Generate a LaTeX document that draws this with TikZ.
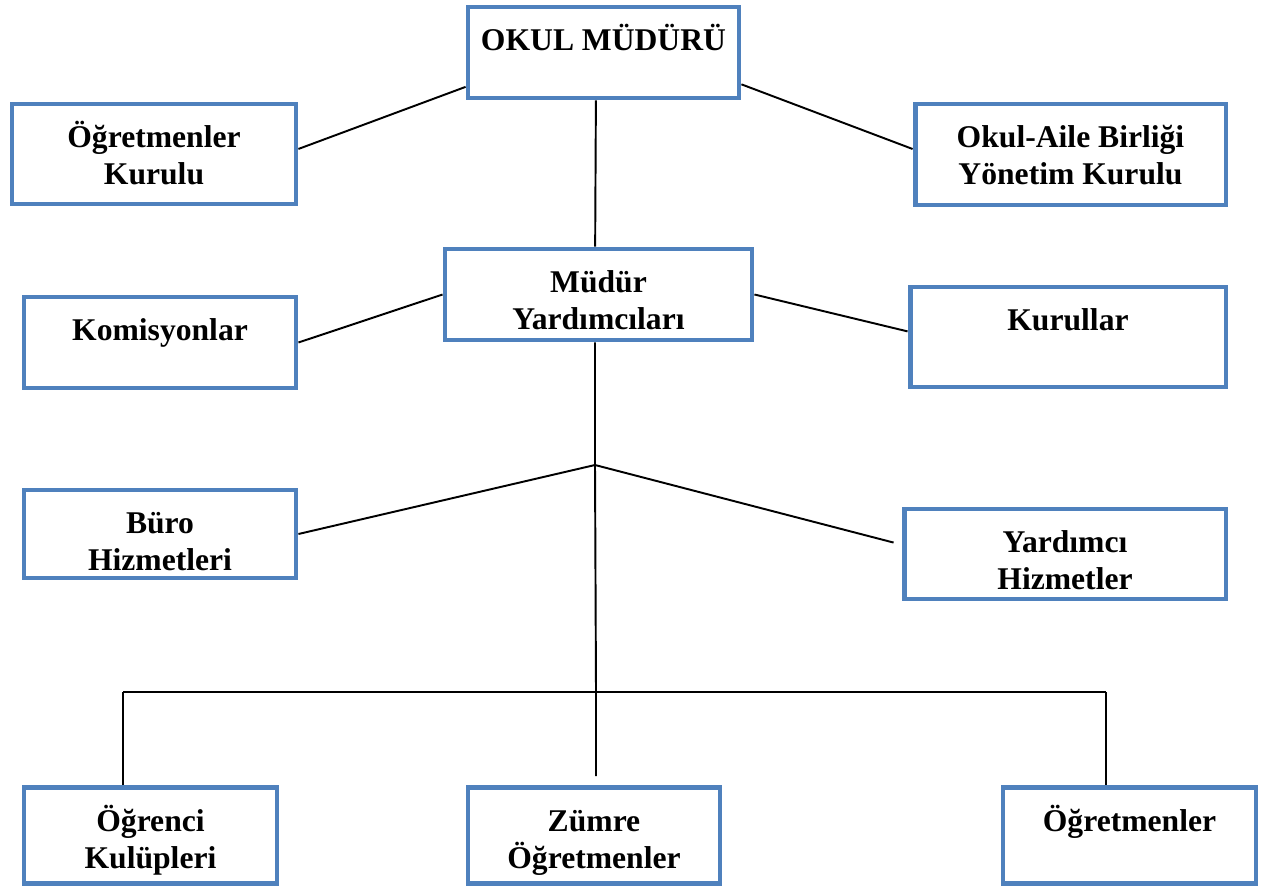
\documentclass[tikz,border=0pt]{standalone}
\usepackage{fontspec}
\setmainfont{Liberation Serif}
\definecolor{kutumavi}{HTML}{4F81BD}
\newcommand{\kutu}[3]{\parbox[c][#2cm][t]{#1cm}{\centering\rule{0pt}{25pt}#3}}

\begin{document}
\begin{tikzpicture}
  [x=0.02cm,y=-0.02cm,
   every node/.style={rectangle,draw=kutumavi,line width=2.8pt,inner sep=0pt,
                      font=\bfseries\fontsize{18}{21}\selectfont},
   cizgi/.style={line width=1.1pt}]
  \useasboundingbox (0,0) rectangle (1264,888);

  \node (mudur)    at (603.5,52.5)  {\kutu{5.42}{1.82}{OKUL MÜDÜRÜ}};
  \node (ogrkurul) at (154,154)     {\kutu{5.68}{2.00}{Öğretmenler\\Kurulu}};
  \node (okulaile) at (1070.5,154.5){\kutu{6.22}{2.02}{Okul-Aile Birliği\\Yönetim Kurulu}};
  \node (yard)     at (598.5,294.5) {\kutu{6.14}{1.82}{Müdür\\Yardımcıları}};
  \node (komisyon) at (160,342.5)   {\kutu{5.44}{1.82}{Komisyonlar}};
  \node (kurullar) at (1068,337)    {\kutu{6.32}{2.00}{Kurullar}};
  \node (buro)     at (160,534)     {\kutu{5.44}{1.76}{Büro\\Hizmetleri}};
  \node (yrdhiz)   at (1065,554)    {\kutu{6.44}{1.80}{Yardımcı\\Hizmetler}};
  \node (ogrkulup) at (150.5,835.5) {\kutu{5.06}{1.92}{Öğrenci\\Kulüpleri}};
  \node (zumre)    at (594,835.5)   {\kutu{5.04}{1.92}{Zümre\\Öğretmenler}};
  \node (ogretmen) at (1129.5,835.5){\kutu{5.06}{1.92}{Öğretmenler}};

  \coordinate (dal1) at (595,465);
  \coordinate (dal2) at (596,692);
  \coordinate (uc)   at (596,776);
  \coordinate (sol)  at (123,692);
  \coordinate (sag)  at (1106,692);

  \draw[cizgi] (mudur.194) -- (ogrkurul.2);
  \draw[cizgi] (mudur.347) -- (okulaile.178);
  \draw[cizgi] (mudur.261) -- (yard.94);
  \draw[cizgi] (yard.west) -- (komisyon.east);
  \draw[cizgi] (yard.east) -- (kurullar.178);
  \draw[cizgi] (yard.south -| dal1) -- (dal1) -- (dal2) -- (uc);
  \draw[cizgi] (dal1) -- (buro.east);
  \draw[cizgi] (dal1) -- ([xshift=-0.16cm]yrdhiz.176);
  \draw[cizgi] (sol) -- (sag);
  \foreach \ust/\alt in {sol/ogrkulup,sag/ogretmen}
    \draw[cizgi] (\ust) -- (\ust |- \alt.north);
\end{tikzpicture}
\end{document}
